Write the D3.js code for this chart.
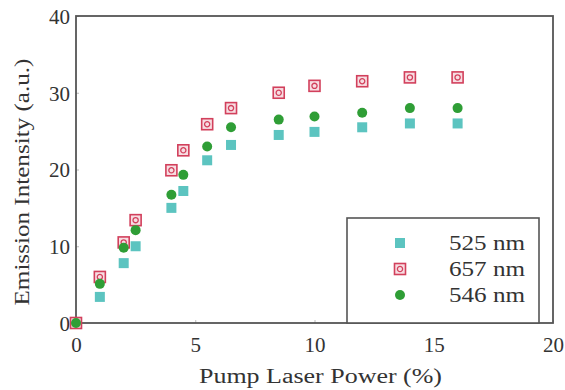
<!DOCTYPE html>
<html lang="en">
<head>
<meta charset="UTF-8">
<script src="https://d3js.org/d3.v7.min.js"></script>
<style>
  html,body{margin:0;padding:0;background:#fff;}
  svg text{font-family:"Times New Roman",Times,Tinos,"Liberation Serif",serif !important;}
  .tick text{font-size:21px;fill:#333;}
</style>
</head>
<body>
<div id="chart"></div>
<script>
// pump laser power (%)
var power = [0, 1, 2, 2.5, 4, 4.5, 5.5, 6.5, 8.5, 10, 12, 14, 16];
// emission intensity (a.u.)
var nm525 = [0, 3.4, 7.8, 10.0, 15.0, 17.2, 21.2, 23.2, 24.5, 24.9, 25.5, 26.0, 26.0];
var nm657 = [0, 6.0, 10.5, 13.4, 19.9, 22.5, 25.9, 28.0, 30.0, 30.9, 31.5, 32.0, 32.0];
var nm546 = [0, 5.1, 9.8, 12.1, 16.7, 19.3, 23.0, 25.5, 26.5, 26.9, 27.4, 28.0, 28.0];
var seriesNames = ["525 nm", "657 nm", "546 nm"];
var xTicks = [0, 5, 10, 15, 20];
var yTicks = [0, 10, 20, 30, 40];

var width = 565, height = 390;
var margin = {top: 16, right: 12, bottom: 67, left: 76};

var svg = d3.select("#chart").append("svg")
    .attr("width", width)
    .attr("height", height);

var x = d3.scaleLinear().domain([0, 20]).range([margin.left, width - margin.right]);
var y = d3.scaleLinear().domain([0, 40]).range([height - margin.bottom, margin.top]);

// tiny inward ticks
var xAxis = svg.append("g")
    .attr("transform", "translate(0," + y(0) + ")")
    .call(d3.axisBottom(x).tickValues(xTicks).tickSize(-3).tickPadding(10));
var yAxis = svg.append("g")
    .attr("transform", "translate(" + x(0) + ",0)")
    .call(d3.axisLeft(y).tickValues(yTicks).tickSize(-3).tickPadding(6));
svg.selectAll(".domain").remove();
svg.selectAll(".tick line").attr("stroke", "#bbb");
xAxis.attr("font-family", null);
yAxis.attr("font-family", null);
xAxis.selectAll("text").attr("dy", "0.9em");
yAxis.selectAll("text").attr("dy", "0.35em");

// frame
svg.append("rect")
    .attr("x", x(0)).attr("y", y(40))
    .attr("width", x(20) - x(0)).attr("height", y(0) - y(40))
    .attr("fill", "none").attr("stroke", "#555").attr("stroke-width", 1.8);

// axis titles
svg.append("text")
    .attr("x", (x(0) + x(20)) / 2 + 6).attr("y", 383)
    .attr("text-anchor", "middle")
    .attr("font-size", 20).attr("fill", "#333")
    .attr("textLength", 243).attr("lengthAdjust", "spacingAndGlyphs")
    .text("Pump Laser Power (%)");
svg.append("text")
    .attr("transform", "translate(29,182) rotate(-90)")
    .attr("text-anchor", "middle")
    .attr("font-size", 21).attr("fill", "#333")
    .attr("textLength", 247).attr("lengthAdjust", "spacingAndGlyphs")
    .text("Emission Intensity (a.u.)");

// marker drawers
function cyanSquare(g) {
  g.append("rect").attr("x", -5).attr("y", -5).attr("width", 10).attr("height", 10)
    .attr("fill", "#5cc4c0");
}
function redSquare(g) {
  g.append("rect").attr("x", -5.5).attr("y", -5.5).attr("width", 11).attr("height", 11)
    .attr("fill", "#f7dde2").attr("stroke", "#d2405c").attr("stroke-width", 1.6);
  g.append("circle").attr("r", 2.6)
    .attr("fill", "none").attr("stroke", "#d2405c").attr("stroke-width", 1.3);
}
function greenDot(g) {
  g.append("circle").attr("r", 5).attr("fill", "#2f9e36");
}

var series = [
  {values: nm525, draw: cyanSquare},
  {values: nm657, draw: redSquare},
  {values: nm546, draw: greenDot}
];

series.forEach(function(s) {
  svg.append("g").selectAll("g")
    .data(power)
    .enter().append("g")
    .attr("transform", function(d, i) { return "translate(" + x(d) + "," + y(s.values[i]) + ")"; })
    .each(function() { s.draw(d3.select(this)); });
});

// legend
var legend = svg.append("g");
legend.append("rect")
    .attr("x", 347).attr("y", 218).attr("width", 192).attr("height", y(0) - 218)
    .attr("fill", "#fff").attr("stroke", "#555").attr("stroke-width", 1.6);
series.forEach(function(s, i) {
  var row = legend.append("g").attr("transform", "translate(400," + (243 + i * 26) + ")");
  s.draw(row);
  row.append("text")
    .attr("x", 49).attr("y", 0).attr("dy", "0.35em")
    .attr("font-size", 21).attr("fill", "#333")
    .attr("textLength", 76).attr("lengthAdjust", "spacingAndGlyphs")
    .text(seriesNames[i]);
});
</script>
</body>
</html>
